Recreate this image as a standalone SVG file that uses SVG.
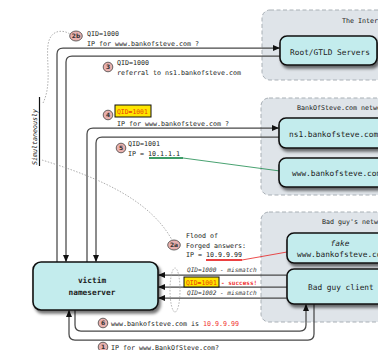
<svg xmlns="http://www.w3.org/2000/svg" width="378" height="350" viewBox="0 0 378 350">
<defs>
<filter id="sh" x="-20%" y="-20%" width="150%" height="160%">
<feDropShadow dx="2" dy="3" stdDeviation="1.8" flood-color="#000" flood-opacity="0.55"/>
</filter>
<marker id="ah" markerWidth="7" markerHeight="7" refX="6.5" refY="3.5" orient="auto" markerUnits="userSpaceOnUse">
<path d="M0,0.5 L7,3.5 L0,6.5 Z" fill="#111"/>
</marker>
<style>
.panel{fill:#dfe4e9;stroke:#a9b0b6;stroke-width:1;stroke-dasharray:4 2.5}
.node{fill:#c3eced;stroke:#111;stroke-width:1.6;filter:url(#sh)}
.ln{fill:none;stroke:#484848;stroke-width:1.25}
.arr{marker-end:url(#ah)}
.t{font-family:"DejaVu Sans Mono","Liberation Mono",monospace;font-size:6.65px;fill:#1a1a1a}
.nt{font-family:"DejaVu Sans Mono","Liberation Mono",monospace;font-size:7.8px;fill:#1a1a1a}
.it{font-family:"DejaVu Sans Mono","Liberation Mono",monospace;font-size:6.1px;font-style:italic;fill:#333}
.num{fill:#e8b0ad;stroke:#444;stroke-width:0.8}
.nn{font-family:"DejaVu Sans","Liberation Sans",sans-serif;font-size:6px;font-weight:bold;fill:#333;text-anchor:middle}
.dash{fill:none;stroke:#999;stroke-width:0.8;stroke-dasharray:1.5 1.5}
.red{fill:#f03030}
.hl{fill:#ffe600;stroke:#111;stroke-width:1}
.hlt{font-family:"DejaVu Sans Mono","Liberation Mono",monospace;font-size:6.4px;fill:#e8420a}
</style>
</defs>

<g id="panels">
<rect class="panel" x="262" y="10" width="140" height="70" rx="8"/>
<text class="t" x="342" y="23">The Internet</text>
<rect class="panel" x="261" y="98" width="140" height="97" rx="8"/>
<text class="t" x="297" y="110">BankOfSteve.com network</text>
<rect class="panel" x="261" y="212" width="140" height="110" rx="8"/>
<text class="t" x="322" y="224">Bad guy's network</text>
</g>

<g id="connectors">
<path class="ln arr" d="M57,262 V54 Q57,48 63,48 H279.5"/>
<path class="ln arr" d="M280,56 H72 Q66,56 66,62 V261.5"/>
<path class="ln arr" d="M87,262 V134 Q87,128 93,128 H278.5"/>
<path class="ln arr" d="M279,137 H102 Q96,137 96,143 V261.5"/>
<path class="ln arr" d="M287,275 H158.5"/>
<path class="ln arr" d="M287,287 H158.5"/>
<path class="ln arr" d="M287,298 H158.5"/>
<path class="ln arr" d="M75,310 V325 Q75,331 81,331 H300 Q306,331 306,325 V304.5"/>
<path class="ln arr" d="M314,304 V334 Q314,340 308,340 H75 Q69,340 69,334 V310.5"/>
<path d="M149,158 H183 L280,171" fill="none" stroke="#1b8a4c" stroke-width="0.8"/>
<path d="M149,158 H183" fill="none" stroke="#1b8a4c" stroke-width="1.6"/>
<path d="M206,260 H242 L287,252" fill="none" stroke="#e82020" stroke-width="0.8"/>
<path d="M206,260 H242" fill="none" stroke="#e82020" stroke-width="1.6"/>
<path class="dash" d="M43,103 C52,85 46,60 48,45 C50,30 62,29 70,34"/>
<path class="dash" d="M42,160 C100,178 150,200 172,240"/>
<ellipse class="dash" cx="175" cy="290" rx="5" ry="22"/>
</g>

<g id="root">
<rect class="node" x="280" y="36" width="97" height="29" rx="7"/>
<text class="nt" x="330" y="55" text-anchor="middle">Root/GTLD Servers</text>
</g>
<g id="ns1">
<rect class="node" x="279" y="118" width="130" height="30" rx="7"/>
<text class="nt" x="289" y="137">ns1.bankofsteve.com</text>
</g>
<g id="www">
<rect class="node" x="279" y="158" width="130" height="29" rx="7"/>
<text class="nt" x="292" y="176">www.bankofsteve.com</text>
</g>
<g id="fake">
<rect class="node" x="287" y="233" width="120" height="30" rx="7"/>
<text class="nt" x="340" y="246" text-anchor="middle" font-style="italic" font-size="10px">fake</text>
<text class="nt" x="297" y="257">www.bankofsteve.com</text>
</g>
<g id="badguy">
<rect class="node" x="287" y="269" width="110" height="35" rx="7"/>
<text class="nt" x="308" y="290">Bad guy client</text>
</g>
<g id="victim">
<rect class="node" x="33" y="262" width="125" height="48" rx="8"/>
<text class="nt" x="92" y="283" text-anchor="middle" font-weight="bold" font-size="8.5px">victim</text>
<text class="nt" x="92" y="295" text-anchor="middle" font-weight="bold" font-size="8.5px">nameserver</text>
</g>

<g id="labels">
<ellipse class="num" cx="76" cy="36" rx="6.3" ry="5"/><text class="nn" x="76" y="38.2">2b</text>
<text class="t" x="87" y="35.5">QID=1000</text>
<text class="t" x="87" y="45.5">IP for www.bankofsteve.com ?</text>

<circle class="num" cx="108" cy="67" r="4.8"/><text class="nn" x="108" y="69.2">3</text>
<text class="t" x="117" y="65">QID=1000</text>
<text class="t" x="117" y="74.5">referral to ns1.bankofsteve.com</text>

<circle class="num" cx="108" cy="115" r="4.8"/><text class="nn" x="108" y="117.2">4</text>
<rect class="hl" x="115" y="105" width="36" height="12"/>
<text class="hlt" x="117" y="113.5">QID=1001</text>
<text class="t" x="117" y="125.5">IP for www.bankofsteve.com ?</text>

<circle class="num" cx="121" cy="148" r="4.8"/><text class="nn" x="121" y="150.2">5</text>
<text class="t" x="128" y="145.5">QID=1001</text>
<text class="t" x="128" y="155.5">IP = 10.1.1.1</text>

<ellipse class="num" cx="174" cy="245" rx="6.3" ry="5"/><text class="nn" x="174" y="247.2">2a</text>
<text class="t" x="186" y="237.5">Flood of</text>
<text class="t" x="186" y="247.5">Forged answers:</text>
<text class="t" x="186" y="257">IP = 10.9.9.99</text>

<text class="it" x="187" y="272">QID=1000 - mismatch</text>
<rect class="hl" x="184" y="277" width="35" height="10"/>
<text class="hlt" x="186" y="284.5">QID=1001</text>
<text class="hlt" x="221" y="284.5" style="fill:#f03030;font-weight:bold;font-size:6px">- success!</text>
<text class="it" x="187" y="295">QID=1002 - mismatch</text>

<circle class="num" cx="103" cy="323" r="4.8"/><text class="nn" x="103" y="325.2">6</text>
<text class="t" x="111" y="325.5">www.bankofsteve.com is <tspan class="red">10.9.9.99</tspan></text>

<circle class="num" cx="103" cy="347" r="4.8"/><text class="nn" x="103" y="349.2">1</text>
<text class="t" x="111" y="349.5">IP for www.BankOfSteve.com?</text>

<text class="t" transform="translate(37,165) rotate(-90)" font-style="italic" font-size="8.1px">Simultaneously</text>
<line x1="39.5" y1="97" x2="39.5" y2="166" stroke="#111" stroke-width="1.2"/>
</g>
</svg>
